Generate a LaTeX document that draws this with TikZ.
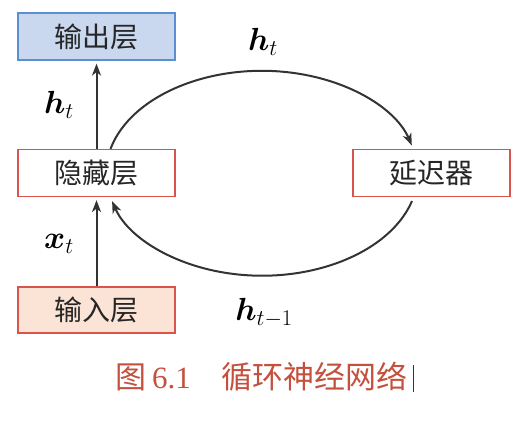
\documentclass[tikz,border=0pt]{standalone}
\usepackage{fix-cm}
\usepackage{amsmath,bm}
\usepackage{fontspec}
\newfontfamily\cjk{Noto Sans CJK SC}
\newfontfamily\capnum{Liberation Serif}
\usetikzlibrary{arrows.meta,calc}
\definecolor{bluefill}{HTML}{C9D8EE}
\definecolor{blueedge}{HTML}{5B8FD0}
\definecolor{rededge}{HTML}{D9544D}
\definecolor{peach}{HTML}{FBE4D6}
\definecolor{capred}{HTML}{C4503E}
\definecolor{linec}{HTML}{333333}
\tikzset{
  layerbox/.style={draw=rededge, line width=1.2pt, minimum width=157pt, minimum height=47pt, inner sep=0pt,
    font=\cjk\fontsize{28}{30}\selectfont, text=black!85},
  arr/.style={draw=linec, line width=2pt, -{Stealth[length=12pt,width=9pt,inset=3.5pt]}},
  lbl/.style={font=\fontsize{32}{34}\selectfont, text=black}
}
\begin{document}
\begin{tikzpicture}[x=1pt,y=1pt]
\useasboundingbox (0,0) rectangle (522,422);
\node[layerbox, draw=blueedge, fill=bluefill] (out) at (96.5,385.5) {输出层};
\node[layerbox, fill=white] (hid) at (96.5,249) {隐藏层};
\node[layerbox, fill=peach, minimum height=46pt] (inp) at (96.5,112) {输入层};
\node[layerbox, fill=white] (del) at (431.5,249) {延迟器};
\draw[arr, shorten >=3pt] (inp.north) -- (hid.south);
\draw[arr, shorten >=3pt] (hid.north) -- (out.south);
\coordinate (s1) at ([xshift=14pt]hid.north);
\coordinate (s2) at ([xshift=-19.5pt,yshift=-4pt]del.south);
\draw[arr] (s1) arc[start angle=166, end angle=16, x radius=156, y radius=103];
\draw[arr] (s2) arc[start angle=-16, end angle=-164, x radius=156, y radius=103];
\node[lbl] (lh) at (59,317) {$\bm{h}_t$};
\node[lbl] (lx) at (59,178) {$\bm{x}_t$};
\node[lbl] (th) at (263,380) {$\bm{h}_t$};
\node[lbl] (bh) at (264,109) {$\bm{h}_{t-1}$};
\node[anchor=west, inner sep=0pt, text=capred, font=\fontsize{31}{33}\selectfont] (cap) at (115,45)
  {{\cjk 图}\hspace{6pt}{\capnum 6.1}\hspace{31pt}{\cjk 循环神经网络}};
\draw[black!80, line width=0.8pt] (413,30) -- (413,57);
\end{tikzpicture}
\end{document}
